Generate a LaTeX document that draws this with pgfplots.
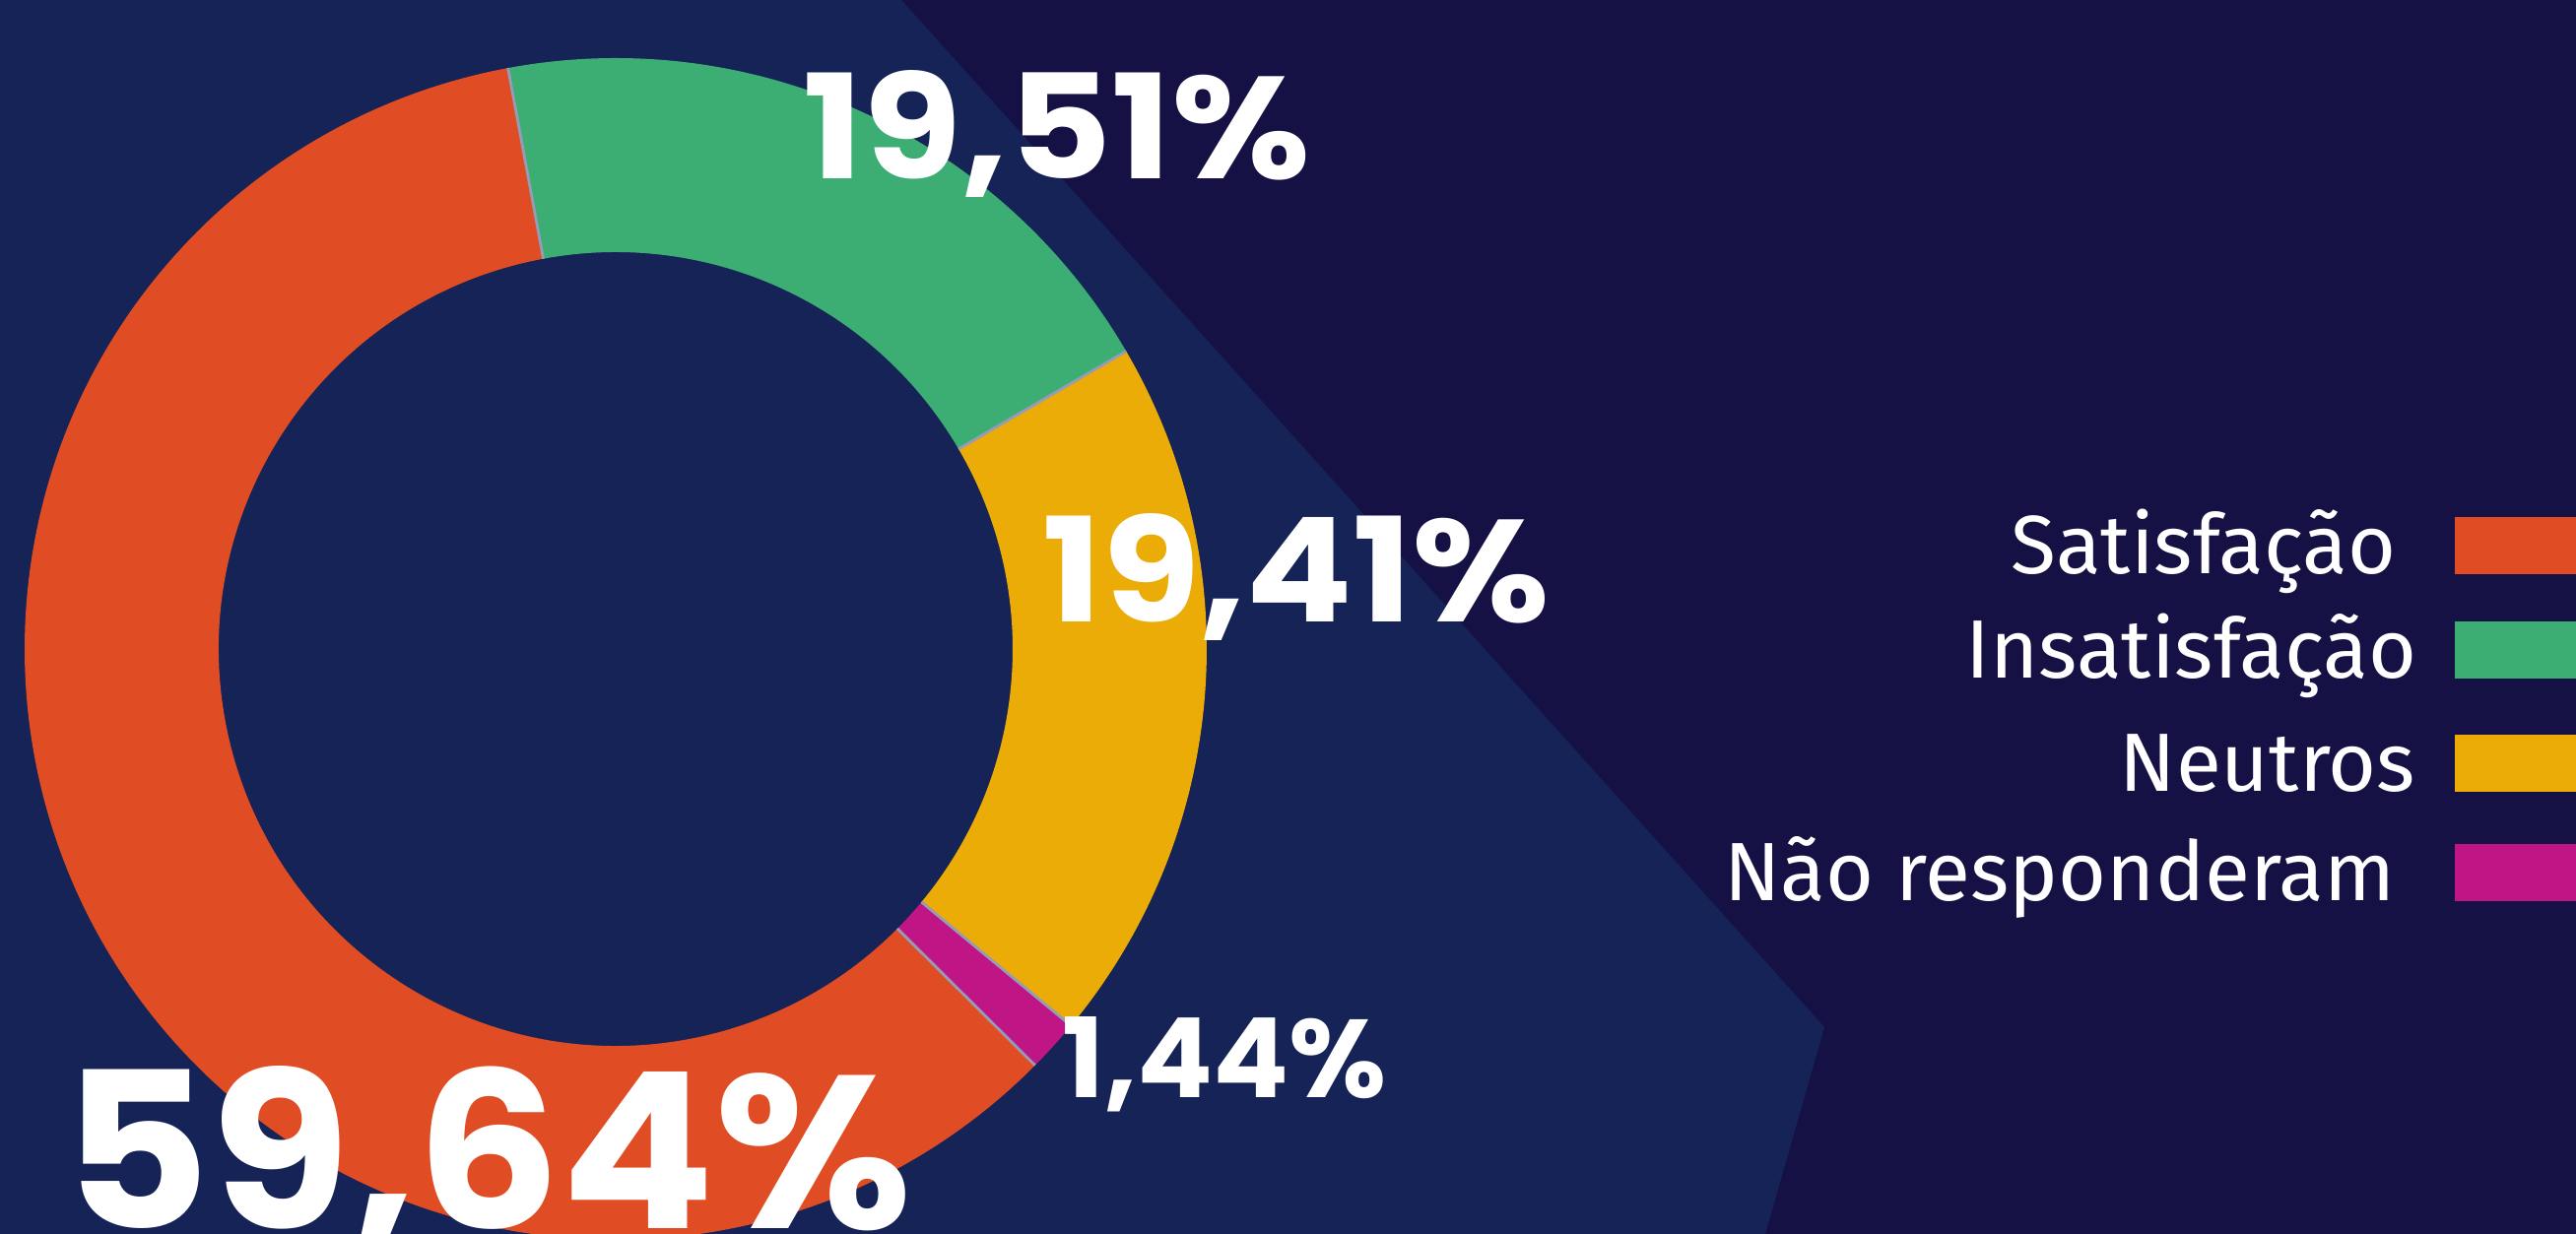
\documentclass[border=0pt]{standalone}
\usepackage{fontspec}
\usepackage{pgfplots}
\pgfplotsset{compat=1.18}
\usepackage{graphicx}
\newfontfamily\numfont{Poppins}
\newfontfamily\legfont{Fira Sans}
\definecolor{bgdark}{RGB}{22,17,68}
\definecolor{bgnavy}{RGB}{21,35,87}
\definecolor{cSat}{RGB}{224,77,36}
\definecolor{cIns}{RGB}{61,174,115}
\definecolor{cNeu}{RGB}{235,172,7}
\definecolor{cNao}{RGB}{192,22,133}
\definecolor{csep}{RGB}{150,156,182}

% shares (percent)
\def\pSat{59.64}
\def\pIns{19.51}
\def\pNeu{19.41}
\def\pNao{1.44}

% centre of the ring (axis units = px), radii in pt (1 px = 0.25 pt)
\def\cx{625}\def\cy{594}
\def\Ro{150pt}\def\Rw{49.25pt}

\newcommand\ringslice[3]{%
  \fill[#3] (axis cs:\cx,\cy) ++(#1:\Ro) arc[start angle=#1, end angle=#2, radius=\Ro]
     -- ++({#2+180}:\Rw) arc[start angle=#2, end angle=#1, radius=\Ro-\Rw] -- cycle;}
\newcommand\ringsep[1]{%
  \draw[csep, line width=0.7pt] (axis cs:\cx,\cy) ++(#1:\Ro-\Rw) -- ++(#1:\Rw);}
\newcommand\numlabel[5]{%
  \node[anchor=base west, inner sep=0pt, text=white] at (axis cs:#1,#2)
    {\resizebox{#3pt}{#4pt}{\numfont\bfseries #5}};}
\newcommand\legentry[4]{%
  \node[anchor=base east, inner sep=0pt, text=white] at (axis cs:#1,#2)
    {\legfont\fontsize{21pt}{25pt}\selectfont #3};
  \fill[#4] (axis cs:2492,#2) rectangle (axis cs:2615,#2+58);}

\begin{document}
\begin{tikzpicture}
\pgfmathsetmacro\aA{100.5}
\pgfmathsetmacro\aB{\aA-3.6*\pIns}
\pgfmathsetmacro\aC{\aB-3.6*\pNeu}
\pgfmathsetmacro\aD{\aC-3.6*\pNao}
\pgfmathsetmacro\aE{\aD-3.6*\pSat}
\begin{axis}[x=0.25pt, y=0.25pt, xmin=0, xmax=2615, ymin=0, ymax=1253,
  scale only axis, hide axis, clip=false]
\coordinate (SW) at (axis cs:0,0);
\coordinate (NE) at (axis cs:2615,1253);
\fill[bgdark] (axis cs:0,0) rectangle (axis cs:2615,1253);
\fill[bgnavy] (axis cs:0,0) -- (axis cs:0,1253) -- (axis cs:915,1253)
   -- (axis cs:1852,210) -- (axis cs:1792,0) -- cycle;
\ringslice{\aA}{\aB}{cIns}
\ringslice{\aB}{\aC}{cNeu}
\ringslice{\aC}{\aD}{cNao}
\ringslice{\aD}{\aE}{cSat}
\ringsep{\aA}\ringsep{\aB}\ringsep{\aC}\ringsep{\aD}
\numlabel{815}{1071}{128.75}{27.5}{19,51\%}
\numlabel{1058}{621}{128.75}{27.5}{19,41\%}
\numlabel{1078}{138}{82.25}{20.5}{1,44\%}
\numlabel{63}{5}{215.75}{41.25}{59,64\%}
\legentry{2433}{670}{Satisfação}{cSat}
\legentry{2454}{564}{Insatisfação}{cIns}
\legentry{2453}{449}{Neutros}{cNeu}
\legentry{2432}{338}{Não responderam}{cNao}
\end{axis}
\pgfresetboundingbox
\path[use as bounding box] (SW) rectangle (NE);
\end{tikzpicture}
\end{document}
